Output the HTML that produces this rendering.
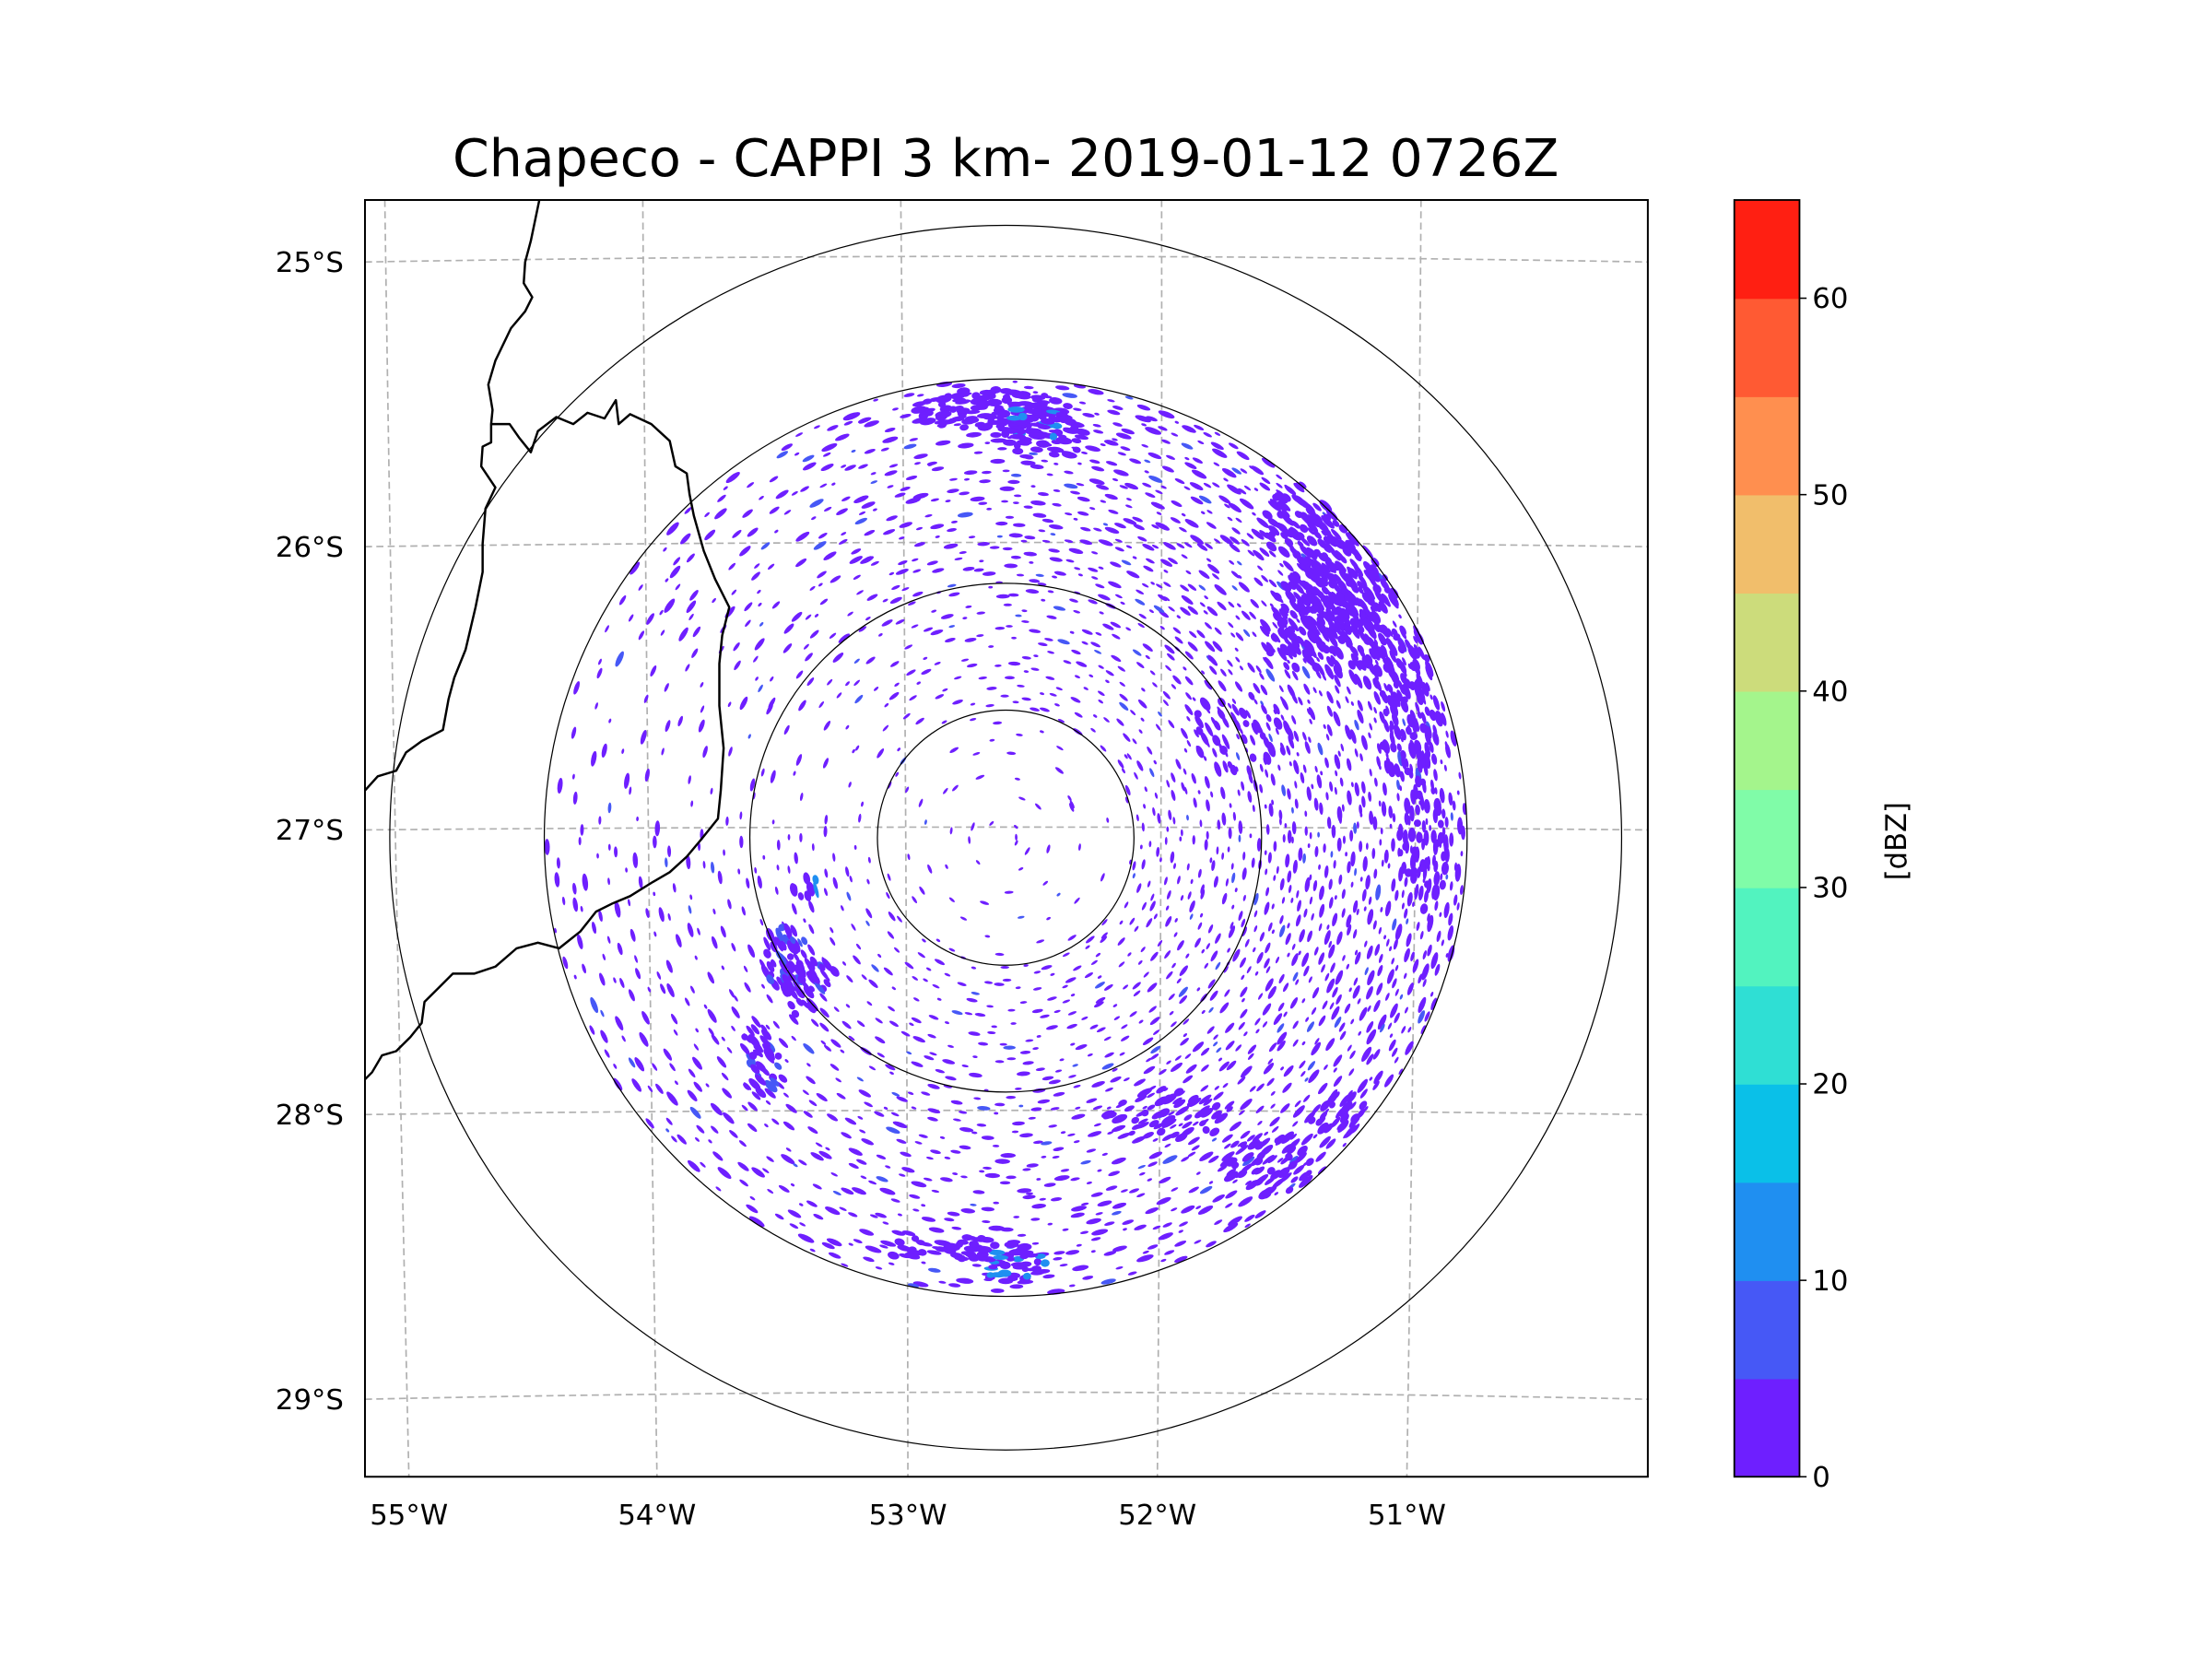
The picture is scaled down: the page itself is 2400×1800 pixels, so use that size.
<!DOCTYPE html>
<html><head><meta charset="utf-8"><style>
html,body{margin:0;padding:0;background:#fff;}
svg{display:block;}
text{font-family:"DejaVu Sans","Liberation Sans",sans-serif;fill:#000;}
</style></head><body>
<svg id="svg" width="2400" height="1800" viewBox="0 0 2400 1800" xmlns="http://www.w3.org/2000/svg">
<g id="root" transform="matrix(1.538,0,0,1.529,-8.5,1.4)">
<text x="715" y="124" font-size="37" text-anchor="middle">Chapeco - CAPPI 3 km- 2019-01-12 0726Z</text>
<defs><clipPath id="axclip"><rect x="263" y="141" width="905" height="906"/></clipPath></defs>
<g id="plot" clip-path="url(#axclip)"></g>
<rect x="263" y="141" width="905" height="906" fill="none" stroke="#000" stroke-width="1.3"/>
<g id="ticks"></g>
<g id="cbar"></g>
<text transform="translate(1350,596) rotate(-90)" font-size="20" text-anchor="middle">[dBZ]</text>
</g>
</svg>
<script>
// ---- data ----
const lonLabels = ["55°W","54°W","53°W","52°W","51°W"];
const lonTop = [277,459,641,825,1008];
const lonBottom = [294,469,646,822,998];
const latLabels = ["25°S","26°S","27°S","28°S","29°S"];
const latEdge = [185,387,588,790,992];
const latMid = [181,384,586,787,987];
const ringRadii = [90.5,180.5,325.5,434.5];
const radarCenter = [715,593.5];
const cbarLevels = [0,5,10,15,20,25,30,35,40,45,50,55,60,65];
const cbarColors = ["#6e1fff","#4658f6","#1f8ff1","#0ac0e8","#2fdfd4","#52f3bf","#80fca8","#a4f58c","#ccdc7b","#f1be6b","#ff8f4f","#ff5a33","#ff1f12"];
const cbarTicks = [0,10,20,30,40,50,60];
const borderA = [[386,141],[380,170],[376,185],[375,200],[381,210],[376,220],[366,232],[355,255],[350,272],[353,290],[352,300],[352,313],[346,316],[345,330],[355,345],[348,360],[346,385],[346,405],[341,430],[334,460],[326,480],[322,495],[318,517],[303,525],[292,533],[285,546],[272,550],[263,560]];
const borderB = [[352,300],[365,300],[372,310],[380,320],[385,305],[398,295],[410,300],[420,292],[432,296],[440,283],[442,300],[450,293],[465,300],[478,312],[482,330],[490,335],[492,350],[495,365],[502,390],[510,410],[520,430],[515,450],[513,470],[513,500],[516,530],[514,560],[512,580],[500,595],[490,607],[478,618],[466,625],[450,635],[438,640],[426,646],[415,660],[400,672],[385,668],[370,672],[355,685],[340,690],[325,690],[315,700],[305,710],[303,725],[295,735],[285,745],[275,748],[268,760],[263,765]];
// echo clusters: cx, cy, rx, ry, count, dBZ
const clusterX = [705,735,930,960,940,990,1000,1010,560,570,545,585,540,720,690,900,830,880,950,650,740,940,575];
const clusterY = [290,300,370,410,450,470,520,600,680,700,760,690,740,895,885,825,790,520,790,885,310,430,630];
const clusterRX = [55,25,35,40,45,25,22,18,16,12,15,10,10,25,15,32,45,40,20,20,35,35,10];
const clusterRY = [15,12,28,32,28,28,38,45,25,20,20,12,15,15,10,22,18,28,15,8,15,32,10];
const clusterN = [90,30,80,100,80,50,50,45,45,22,22,12,12,40,18,45,45,35,22,12,30,80,8];
const clusterDbz = [3,12,3,3,3,3,3,3,6,3,6,8,3,10,3,3,3,3,3,3,3,3,12];
// background speckle density per 30° sector (from N clockwise) for range bins
const densInner = [0.5,0.5,0.55,0.6,0.5,0.45,0.4,0.35,0.3,0.15,0.25,0.35];
const densOuter = [0.8,0.9,1.0,1.0,0.75,0.6,0.55,0.45,0.35,0.18,0.35,0.55];
const densCenter = 0.14;

const NS="http://www.w3.org/2000/svg";
function mk(tag,attrs,parent){const e=document.createElementNS(NS,tag);for(const k in attrs)e.setAttribute(k,attrs[k]);parent.appendChild(e);return e;}
const plot=document.getElementById('plot'), ticks=document.getElementById('ticks'), cbar=document.getElementById('cbar');
const [CX,CY]=radarCenter;

lonTop.forEach((t,i)=>{
 const b=lonBottom[i];
 const l=mk('path',{d:`M${t},141 Q${(t+b)/2+ (i<2?-2:2)},594 ${b},1047`,fill:'none',stroke:'#b0b0b0','stroke-width':1.1,'stroke-dasharray':'5,3'},plot);
 
 
 const tx=mk('text',{x:b,y:1081,'font-size':20,'text-anchor':'middle'},ticks);
 tx.textContent=lonLabels[i];
 
 
});
latEdge.forEach((y,i)=>{
 const m=latMid[i];
 const l=mk('path',{d:`M263,${y} Q715,${2*m-y} 1168,${y}`,fill:'none',stroke:'#b0b0b0','stroke-width':1.1,'stroke-dasharray':'5,3'},plot);
 
 
 const tx=mk('text',{x:248,y:y+7,'font-size':20,'text-anchor':'end'},ticks);
 tx.textContent=latLabels[i];
 
 
});

function halton(i,b){let f=1,r=0;while(i>0){f/=b;r+=f*(i%b);i=Math.floor(i/b);}return r;}
function colorFor(d){let k=0;for(let j=0;j<cbarColors.length;j++){if(d>=cbarLevels[j])k=j;}return cbarColors[k];}
const echoes=mk('g',{},plot);


let idx=1;
function speck(x,y,d,len,wid){
 const dx=x-CX,dy=y-CY, r=Math.hypot(dx,dy);
 if(r>327)return;
 const ang=Math.atan2(dy,dx)*180/Math.PI+90;
 const e=mk('ellipse',{cx:x.toFixed(1),cy:y.toFixed(1),rx:len.toFixed(1),ry:wid.toFixed(1),fill:colorFor(d),transform:`rotate(${ang.toFixed(0)} ${x.toFixed(1)} ${y.toFixed(1)})`},echoes);
 
 
}
for(let s=0;s<12;s++){
 const bins=[[0,90,densCenter,35],[90,180,densInner[s],110],[180,325,densOuter[s],260]];
 bins.forEach(([r0,r1,dens,base])=>{
  const n=Math.round(dens*base);
  for(let k=0;k<n;k++){
   idx++;
   const a=(s+halton(idx,2))*30*Math.PI/180;
   const u=halton(idx,3);
   const r=Math.sqrt(r0*r0+u*(r1*r1-r0*r0));
   const x=CX+r*Math.sin(a), y=CY-r*Math.cos(a);
   const sz=0.9+halton(idx,5)*(r/160+0.9);
   const dd=halton(idx,7)<0.06?7:2;
   speck(x,y,dd,sz*1.7,Math.max(0.9,sz*0.55));
  }
 });
}
clusterX.forEach((cx,i)=>{
 const n=clusterN[i];
 for(let k=0;k<n;k++){
  idx++;
  const a=halton(idx,2)*2*Math.PI, u=Math.sqrt(halton(idx,3));
  const x=cx+clusterRX[i]*u*Math.cos(a), y=clusterY[i]+clusterRY[i]*u*Math.sin(a);
  const dd=halton(idx,5)<0.3?clusterDbz[i]:Math.min(clusterDbz[i],3);
  speck(x,y,dd,2.5+halton(idx,7)*3.5,1.4+halton(idx,11)*1.4);
 }
});

ringRadii.forEach(r=>{
 const c=mk('circle',{cx:CX,cy:CY,r:r,fill:'none',stroke:'#000','stroke-width':0.8},plot);
 
 
});
[borderA,borderB].forEach(b=>{
 const p=mk('polyline',{points:b.map(q=>q.join(',')).join(' '),fill:'none',stroke:'#000','stroke-width':1.6,'stroke-linejoin':'round'},plot);
 
 
});

const cbX=1229,cbW=46,cbTop=141,cbBot=1047,vmax=cbarLevels[cbarLevels.length-1];
const yv=v=>cbBot-(v/vmax)*(cbBot-cbTop);
cbarColors.forEach((c,i)=>{
 const y0=yv(cbarLevels[i+1]),y1=yv(cbarLevels[i]);
 const r=mk('rect',{x:cbX,y:y0,width:cbW,height:y1-y0+0.5,fill:c},cbar);
 
 
});
const fr=mk('rect',{x:cbX,y:cbTop,width:cbW,height:cbBot-cbTop,fill:'none',stroke:'#000','stroke-width':1.2},cbar);


cbarTicks.forEach(v=>{
 const y=yv(v);
 const l=mk('line',{x1:cbX+cbW,x2:cbX+cbW+5,y1:y,y2:y,stroke:'#000','stroke-width':1},cbar);
 
 
 const t=mk('text',{x:cbX+cbW+9,y:y+7,'font-size':20},cbar);
 t.textContent=v;
 
 
});
</script>
</body></html>
